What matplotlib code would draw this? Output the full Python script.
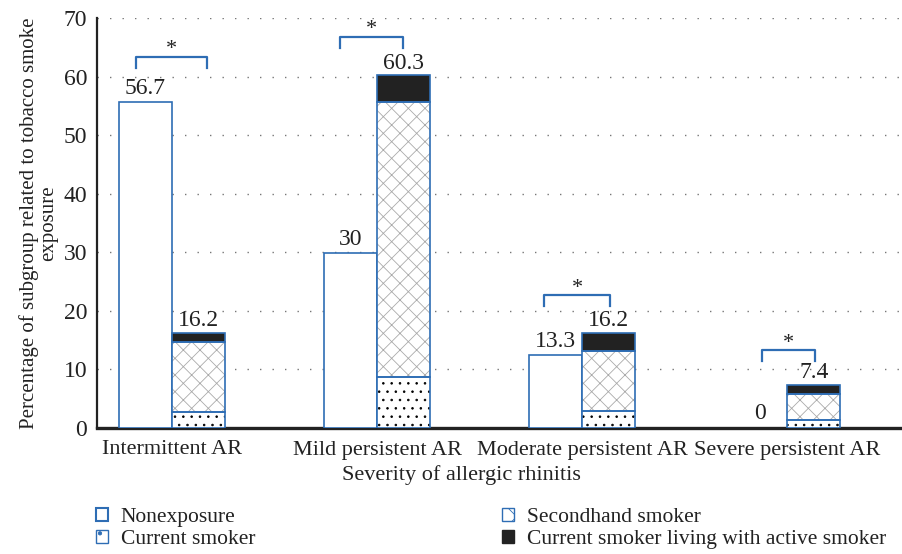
import matplotlib
matplotlib.use("Agg")
import matplotlib.pyplot as plt
from matplotlib.patches import Patch
import numpy as np

plt.rcParams["font.family"] = ["Liberation Serif", "DejaVu Serif"]
plt.rcParams["hatch.linewidth"] = 0.6

# === datos ===
categorias = ["Intermittent AR", "Mild persistent AR", "Moderate persistent AR", "Severe persistent AR"]
no_expuesto = [55.6, 29.8, 12.4, 0.0]
fumador_actual = [2.7, 8.7, 2.9, 1.4]
fumador_pasivo = [11.9, 47.0, 10.2, 4.4]
fumador_con_activo = [1.6, 4.5, 3.1, 1.5]
etiqueta_no_exp = ["56.7", "30", "13.3", "0"]
etiqueta_total = ["16.2", "60.3", "16.2", "7.4"]
# corchetes de significancia: (desde, hasta, altura)
corchetes = [(-0.176, 0.171, 63.4), (-0.18, 0.127, 66.8), (-0.185, 0.137, 22.7), (-0.12, 0.137, 13.3)]

azul = "#2e6db4"
negro = "#222222"
texto = "#222222"
ancho = 0.26

fig = plt.figure(figsize=(9.03, 5.54), dpi=100)
ax = fig.add_axes([97 / 903, 1 - 428 / 554, 803 / 903, 410 / 554])

x = np.arange(len(categorias))
x1 = x - ancho / 2
x2 = x + ancho / 2

# barra de no expuestos (sin borde si vale 0)
bordes = [azul if v > 0 else "none" for v in no_expuesto]
ax.bar(x1, no_expuesto, ancho, facecolor="white", edgecolor=bordes, linewidth=1.2, zorder=3)

# barra apilada
base2 = np.array(fumador_actual)
base3 = base2 + np.array(fumador_pasivo)
ax.bar(x2, fumador_actual, ancho, facecolor="white", edgecolor="black", hatch="..", linewidth=0, zorder=3)
ax.bar(x2, fumador_pasivo, ancho, bottom=base2, facecolor="white", edgecolor="#aaaaaa", hatch="xx", linewidth=0, zorder=3)
ax.bar(x2, fumador_con_activo, ancho, bottom=base3, facecolor=negro, edgecolor=negro, linewidth=0, zorder=3)
for vals, fondo in [(fumador_actual, 0), (fumador_pasivo, base2), (fumador_con_activo, base3)]:
    ax.bar(x2, vals, ancho, bottom=fondo, fill=False, edgecolor=azul, linewidth=1.2, zorder=4)

total = base3 + np.array(fumador_con_activo)
for i in range(len(categorias)):
    ax.text(x1[i], no_expuesto[i] + 0.6, etiqueta_no_exp[i], ha="center", va="bottom", fontsize=17, color=texto)
    ax.text(x2[i], total[i] + 0.3, etiqueta_total[i], ha="center", va="bottom", fontsize=17, color=texto)

for i, (a, b, h) in enumerate(corchetes):
    ax.plot([x[i] + a, x[i] + a, x[i] + b, x[i] + b], [h - 1.9, h, h, h - 1.9], color=azul, lw=1.6, zorder=5)
    ax.text(x[i] + (a + b) / 2, h + 1.2, "*", ha="center", va="center", fontsize=16, color=texto)

ax.set_xlim(-0.366, 3.551)
ax.set_ylim(0, 70)
ax.set_yticks(range(0, 71, 10))
ax.set_xticks(x)
ax.set_xticklabels(categorias, fontsize=16)
ax.tick_params(axis="x", length=0, labelsize=16, colors=texto, pad=9)
ax.tick_params(axis="y", length=0, labelsize=17, colors=texto, pad=7)
ax.yaxis.grid(True, linestyle=(0, (1, 8)), color="#777777", linewidth=1.0)
ax.set_axisbelow(True)
for s in ["top", "right"]:
    ax.spines[s].set_visible(False)
ax.spines["left"].set_linewidth(1.6)
ax.spines["bottom"].set_linewidth(2.4)
ax.spines["left"].set_color(texto)
ax.spines["bottom"].set_color(texto)

ax.set_xlabel("Severity of allergic rhinitis", fontsize=16, color=texto)
ax.xaxis.set_label_coords((461 - 97) / 803, -0.09)
ax.set_ylabel("Percentage of subgroup related to tobacco smoke\nexposure", fontsize=15, color=texto, linespacing=1.0)
ax.yaxis.set_label_coords((58 - 97) / 803, 0.5)

# leyenda
h_no = Patch(facecolor="white", edgecolor=azul, linewidth=1.5)
h_act = Patch(facecolor="white", edgecolor=azul, hatch=".", linewidth=1.0)
h_pas = Patch(facecolor="white", edgecolor=azul, hatch="x", linewidth=1.0)
h_neg = Patch(facecolor=negro, edgecolor=negro)
opts = dict(frameon=False, fontsize=15.5, handlelength=0.55, handleheight=0.55, handletextpad=0.6,
            labelspacing=0.15, labelcolor=texto, borderaxespad=0, borderpad=0)
fig.legend([h_no, h_act], ["Nonexposure", "Current smoker"], loc="upper left",
           bbox_to_anchor=(96 / 903, 1 - 508 / 554), **opts)
fig.legend([h_pas, h_neg], ["Secondhand smoker", "Current smoker living with active smoker"], loc="upper left",
           bbox_to_anchor=(502 / 903, 1 - 508 / 554), **opts)

fig.savefig("out.png", dpi=100)
